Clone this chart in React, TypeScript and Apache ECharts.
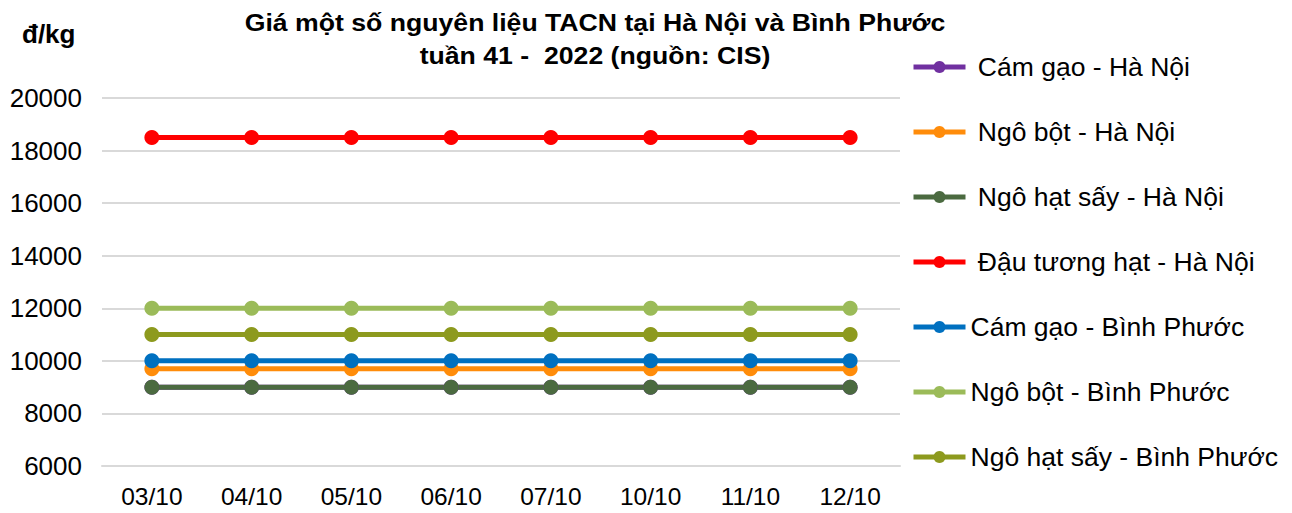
import React, { useEffect, useRef } from "react";
import * as echarts from "echarts";

const categories = ["03/10", "04/10", "05/10", "06/10", "07/10", "10/10", "11/10", "12/10"];
const seriesNames = [
  "Cám gạo - Hà Nội",
  "Ngô bột - Hà Nội",
  "Ngô hạt sấy - Hà Nội",
  "Đậu tương hạt - Hà Nội",
  "Cám gạo - Bình Phước",
  "Ngô bột - Bình Phước",
  "Ngô hạt sấy - Bình Phước",
];
const camGaoHaNoi = [9000, 9000, 9000, 9000, 9000, 9000, 9000, 9000];
const ngoBotHaNoi = [9700, 9700, 9700, 9700, 9700, 9700, 9700, 9700];
const ngoHatSayHaNoi = [9000, 9000, 9000, 9000, 9000, 9000, 9000, 9000];
const dauTuongHaNoi = [18500, 18500, 18500, 18500, 18500, 18500, 18500, 18500];
const camGaoBinhPhuoc = [10000, 10000, 10000, 10000, 10000, 10000, 10000, 10000];
const ngoBotBinhPhuoc = [12000, 12000, 12000, 12000, 12000, 12000, 12000, 12000];
const ngoHatSayBinhPhuoc = [11000, 11000, 11000, 11000, 11000, 11000, 11000, 11000];
const seriesData = [
  camGaoHaNoi,
  ngoBotHaNoi,
  ngoHatSayHaNoi,
  dauTuongHaNoi,
  camGaoBinhPhuoc,
  ngoBotBinhPhuoc,
  ngoHatSayBinhPhuoc,
];
const colors = ["#7030A0", "#FF8C0A", "#4B6A40", "#FF0000", "#0070C0", "#9BBB59", "#8D9A1E"];
const titleLines = ["Giá một số nguyên liệu TACN tại Hà Nội và Bình Phước", "tuần 41 -  2022 (nguồn: CIS)"];
const unitLabel = "đ/kg";

const FONT = "'Liberation Sans', Arial, sans-serif";

export default function App() {
  const ref = useRef<HTMLDivElement>(null);
  useEffect(() => {
    document.body.style.margin = "0";
    const chart = echarts.init(ref.current!, null, { renderer: "svg" });
    chart.setOption({
      animation: false,
      backgroundColor: "#ffffff",
      textStyle: { fontFamily: FONT },
      graphic: [
        {
          type: "text",
          x: 595,
          y: 6,
          scaleX: 1.11,
          style: {
            text: titleLines.join("\n"),
            fontFamily: FONT,
            fontSize: 24,
            fontWeight: "bold",
            lineHeight: 33,
            textAlign: "center",
            fill: "#000",
          },
        },
        {
          type: "text",
          x: 22,
          y: 21,
          style: {
            text: unitLabel,
            fontFamily: FONT,
            fontSize: 26,
            fontWeight: "bold",
            fill: "#000",
          },
        },
      ],
      legend: {
        orient: "vertical",
        left: 911,
        top: 52,
        padding: 0,
        itemWidth: 52,
        itemHeight: 15,
        itemGap: 35,
        data: seriesNames,
        lineStyle: { width: 5 },
        formatter: (n: string) => (n.indexOf("Hà Nội") >= 0 ? " " + n : n),
        textStyle: { fontFamily: FONT, fontSize: 26.5, lineHeight: 30, color: "#000" },
      },
      grid: { left: 102, right: 392, top: 98, bottom: 47, containLabel: false, outerBoundsMode: "none" },
      xAxis: {
        type: "category",
        data: categories,
        boundaryGap: true,
        axisLine: { show: true, lineStyle: { color: "#d9d9d9", width: 2 } },
        axisTick: { show: false },
        axisLabel: { fontFamily: FONT, fontSize: 24.5, color: "#000", margin: 18 },
      },
      yAxis: {
        type: "value",
        min: 6000,
        max: 20000,
        interval: 2000,
        axisLine: { show: false },
        axisTick: { show: false },
        splitLine: { lineStyle: { color: "#d9d9d9", width: 2 } },
        axisLabel: {
          fontFamily: FONT,
          fontSize: 26,
          color: "#000",
          margin: 20,
          formatter: (v: number) => String(v),
        },
      },
      series: seriesNames.map((name, i) => ({
        name,
        type: "line",
        data: seriesData[i],
        color: colors[i],
        symbol: "circle",
        symbolSize: 15,
        lineStyle: { width: 5, color: colors[i] },
        itemStyle: { color: colors[i] },
      })),
    });
    return () => chart.dispose();
  }, []);
  return <div ref={ref} style={{ width: 1292, height: 513 }} />;
}
